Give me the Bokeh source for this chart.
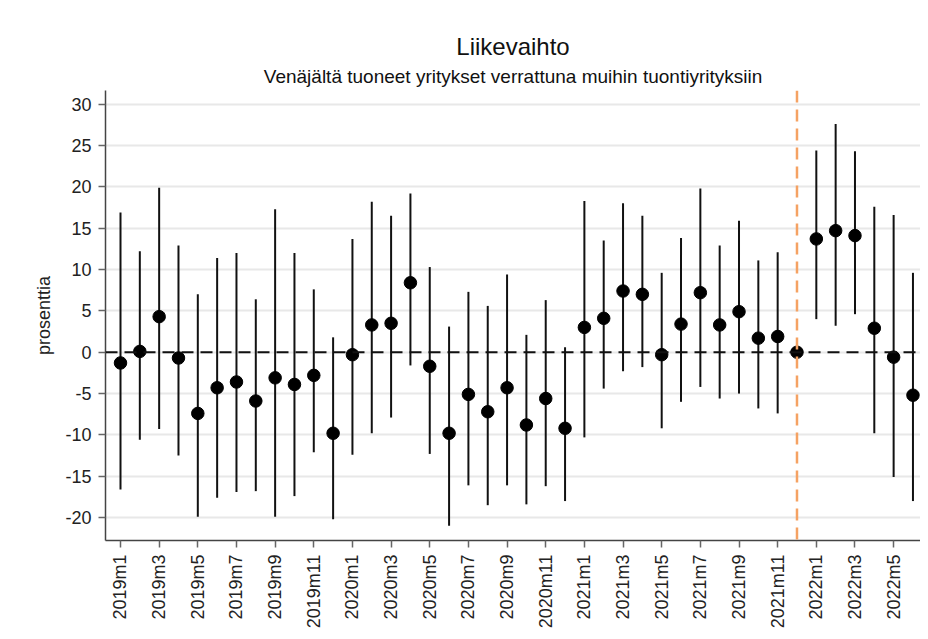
import math
from bokeh.plotting import figure
from bokeh.models import (ColumnDataSource, FixedTicker, Range1d, Span, Title)
from bokeh.embed import file_html
from bokeh.resources import INLINE

# ---- data ----
years = [2019, 2020, 2021, 2022]
months = [f"{y}m{m}" for y in years for m in range(1, 13)][:42]  # 2019m1 .. 2022m6
estimate = [-1.3, 0.1, 4.3, -0.7, -7.4, -4.3, -3.6, -5.9, -3.1, -3.9, -2.8, -9.8,
            -0.3, 3.3, 3.5, 8.4, -1.7, -9.8, -5.1, -7.2, -4.3, -8.8, -5.6, -9.2,
            3.0, 4.1, 7.4, 7.0, -0.3, 3.4, 7.2, 3.3, 4.9, 1.7, 1.9, 0.0,
            13.7, 14.7, 14.1, 2.9, -0.6, -5.2]
ci_low = [-16.6, -10.6, -9.3, -12.5, -19.9, -17.6, -16.9, -16.8, -19.9, -17.4, -12.1, -20.2,
          -12.4, -9.8, -7.9, -1.6, -12.3, -21.0, -16.1, -18.5, -16.1, -18.4, -16.2, -18.0,
          -10.3, -4.4, -2.3, -1.8, -9.2, -6.0, -4.2, -5.6, -5.0, -6.8, -7.4, None,
          4.0, 3.2, 4.6, -9.8, -15.1, -18.0]
ci_high = [16.9, 12.2, 19.9, 12.9, 7.0, 11.4, 12.0, 6.4, 17.3, 12.0, 7.6, 1.8,
           13.7, 18.2, 16.5, 19.2, 10.3, 3.1, 7.3, 5.6, 9.4, 2.1, 6.3, 0.6,
           18.3, 13.5, 18.0, 16.5, 9.6, 13.8, 19.8, 12.9, 15.9, 11.1, 12.1, None,
           24.4, 27.6, 24.3, 17.6, 16.6, 9.6]
reference_month = "2021m12"
y_ticks = [-20, -15, -10, -5, 0, 5, 10, 15, 20, 25, 30]
y_tick_labels = ["-20", "-15", "-10", "-5", "0", "5", "10", "15", "20", "25", "30"]
x_tick_labels = months[::2]

title_text = "Liikevaihto"
subtitle_text = "Venäjältä tuoneet yritykset verrattuna muihin tuontiyrityksiin"
y_label = "prosenttia"

FONT = "Liberation Sans"

idx = list(range(len(months)))
pts = ColumnDataSource(dict(x=idx, y=estimate))
ci_idx = [i for i in idx if ci_low[i] is not None]
cis = ColumnDataSource(dict(x=ci_idx,
                            lo=[ci_low[i] for i in ci_idx],
                            hi=[ci_high[i] for i in ci_idx]))

p = figure(width=920, height=631, output_backend="svg", toolbar_location=None,
           x_range=Range1d(-0.776, 41.39), y_range=Range1d(-22.77, 31.65),
           min_border_left=105, min_border_right=0, min_border_top=90,
           min_border_bottom=89)
p.outline_line_color = None
p.background_fill_color = "white"
p.border_fill_color = "white"

# titles (p.title is outermost; later "above" titles sit nearer the frame)
p.title.text = title_text
p.title.align = "center"
p.title.text_font = FONT
p.title.text_font_size = "24px"
p.title.text_font_style = "normal"
p.title.text_color = "#111111"
p.title.standoff = 2
p.add_layout(Title(text=subtitle_text, align="center", text_font=FONT,
                   text_font_size="19px", text_font_style="normal",
                   text_color="#111111", standoff=7), "above")

# grid
p.xgrid.grid_line_color = None
p.ygrid.grid_line_color = "#e8e8e8"
p.ygrid.grid_line_width = 2
p.ygrid.ticker = FixedTicker(ticks=y_ticks)

# axes
p.yaxis.ticker = FixedTicker(ticks=y_ticks)
p.yaxis.major_label_overrides = {t: l for t, l in zip(y_ticks, y_tick_labels)}
p.xaxis.ticker = FixedTicker(ticks=idx[::2])
p.xaxis.major_label_overrides = {i: l for i, l in zip(idx[::2], x_tick_labels)}
p.xaxis.major_label_orientation = math.pi / 2
for ax in (p.xaxis, p.yaxis):
    ax.axis_line_color = "#444444"
    ax.axis_line_width = 1.5
    ax.major_tick_line_color = "#666666"
    ax.major_tick_line_width = 1.5
    ax.major_tick_out = 7
    ax.major_tick_in = 0
    ax.minor_tick_line_color = None
    ax.major_label_text_font = FONT
    ax.major_label_text_font_size = "18px"
    ax.major_label_text_color = "#222222"
p.yaxis.major_label_standoff = 7
p.xaxis.major_label_standoff = 7
p.yaxis.axis_label = y_label
p.yaxis.axis_label_text_font = FONT
p.yaxis.axis_label_text_font_size = "18px"
p.yaxis.axis_label_text_font_style = "normal"
p.yaxis.axis_label_text_color = "#222222"
p.yaxis.axis_label_standoff = 8

# reference lines
p.add_layout(Span(location=0, dimension="width", line_color="#111111",
                  line_width=2, line_dash="12 7"))
p.add_layout(Span(location=months.index(reference_month), dimension="height",
                  line_color="#f5a263", line_width=2.5, line_dash="12 7"))

# CIs and estimates
p.segment(x0="x", y0="lo", x1="x", y1="hi", source=cis, line_color="#111111",
          line_width=2)
p.scatter(x="x", y="y", source=pts, size=12.5, fill_color="#000000",
          line_color="#000000")

open("out.html", "w").write(file_html(p, INLINE))
